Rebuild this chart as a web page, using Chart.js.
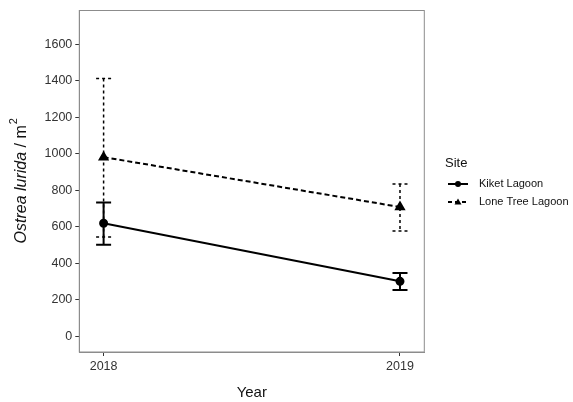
<!DOCTYPE html>
<html>
<head>
<meta charset="utf-8">
<script src="https://cdn.jsdelivr.net/npm/chart.js@4"></script>
<style>
  html, body { margin: 0; background: #fff; }
</style>
</head>
<body>
<canvas id="myChart" width="573" height="402"></canvas>
<script>
const ctx = document.getElementById('myChart');

// data
const years = [2018, 2019]
const yTicks = [0, 200, 400, 600, 800, 1000, 1200, 1400, 1600]
const sites = ['Kiket Lagoon', 'Lone Tree Lagoon']
const kiketMean = [620, 302]
const kiketLow = [502, 254]
const kiketHigh = [734, 347]
const loneMean = [982, 709]
const loneLow = [545, 578]
const loneHigh = [1413, 835]

const FONT = "'Liberation Sans', Arial, sans-serif"

const errorBars = {
  id: 'errorBars',
  beforeDatasetsDraw(chart) {
    const x = chart.scales.x
    const y = chart.scales.y
    const c = chart.ctx
    const sets = [
      { lo: kiketLow, hi: kiketHigh, dash: [], width: 2 },
      { lo: loneLow, hi: loneHigh, dash: [3, 3], width: 1.5 }
    ]
    c.save()
    c.strokeStyle = '#000'
    for (const s of sets) {
      c.lineWidth = s.width
      c.setLineDash(s.dash)
      years.forEach(function (yr, i) {
        const px = x.getPixelForValue(yr)
        const top = y.getPixelForValue(s.hi[i])
        const bot = y.getPixelForValue(s.lo[i])
        c.beginPath()
        c.moveTo(px, top); c.lineTo(px, bot)
        c.moveTo(px - 7.5, top); c.lineTo(px + 7.5, top)
        c.moveTo(px - 7.5, bot); c.lineTo(px + 7.5, bot)
        c.stroke()
      })
    }
    c.restore()
  }
}

const frame = {
  id: 'frame',
  afterDraw(chart) {
    const a = chart.chartArea
    const c = chart.ctx
    c.save()
    c.strokeStyle = '#8c8c8c'
    c.lineWidth = 1
    c.strokeRect(a.left, a.top, a.right - a.left, a.bottom - a.top)

    // y axis title with italic species name and superscript
    c.translate(22, (a.top + a.bottom) / 2)
    c.rotate(-Math.PI / 2)
    c.fillStyle = '#111'
    c.textBaseline = 'middle'
    const p1 = 'Ostrea lurida', p2 = ' / m', p3 = '2'
    c.font = 'italic 16px ' + FONT
    const w1 = c.measureText(p1).width
    c.font = '16px ' + FONT
    const w2 = c.measureText(p2).width
    c.font = '11px ' + FONT
    const w3 = c.measureText(p3).width
    let sx = -(w1 + w2 + w3) / 2
    c.textAlign = 'left'
    c.font = 'italic 16px ' + FONT
    c.fillText(p1, sx, 0)
    sx += w1
    c.font = '16px ' + FONT
    c.fillText(p2, sx, 0)
    sx += w2 + 1
    c.font = '11px ' + FONT
    c.fillText(p3, sx, -8)
    c.restore()

    // legend
    c.save()
    c.fillStyle = '#111'
    c.textBaseline = 'middle'
    c.textAlign = 'left'
    c.font = '13px ' + FONT
    c.fillText('Site', 445, 163)
    c.font = '11px ' + FONT
    chart.data.datasets.forEach(function (ds, i) {
      const ly = 184 + i * 18
      c.strokeStyle = '#000'
      c.lineWidth = 2
      c.setLineDash(i === 0 ? [] : [4, 3])
      c.beginPath()
      c.moveTo(448, ly); c.lineTo(468, ly)
      c.stroke()
      c.setLineDash([])
      c.fillStyle = '#000'
      c.beginPath()
      if (i === 0) {
        c.arc(458, ly, 3, 0, Math.PI * 2)
      } else {
        c.moveTo(458, ly - 3.5); c.lineTo(461.5, ly + 2.5); c.lineTo(454.5, ly + 2.5); c.closePath()
      }
      c.fill()
      c.fillStyle = '#111'
      c.fillText(ds.label, 479, ly)
    })
    c.restore()
  }
}

new Chart(ctx, {
  type: 'line',
  data: {
    datasets: [{
      label: sites[0],
      data: years.map((yr, i) => ({ x: yr, y: kiketMean[i] })),
      borderColor: '#000',
      borderWidth: 2,
      pointStyle: 'circle',
      pointRadius: 3.5,
      pointBackgroundColor: '#000',
      pointBorderColor: '#000'
    }, {
      label: sites[1],
      data: years.map((yr, i) => ({ x: yr, y: loneMean[i] })),
      borderColor: '#000',
      borderWidth: 2,
      borderDash: [5, 3],
      pointStyle: 'triangle',
      pointRadius: 4.5,
      pointBackgroundColor: '#000',
      pointBorderColor: '#000'
    }]
  },
  options: {
    responsive: false,
    animation: false,
    devicePixelRatio: 1,
    layout: { padding: { left: 0, right: 148.7, top: 9.3, bottom: 0 } },
    plugins: {
      legend: { display: false },
      tooltip: { enabled: false }
    },
    scales: {
      x: {
        type: 'linear',
        min: 2017.918,
        max: 2019.082,
        afterBuildTicks: s => { s.ticks = years.map(v => ({ value: v })) },
        afterFit: s => { s.height = 50 },
        ticks: {
          callback: v => String(v),
          font: { family: FONT, size: 12.5 },
          color: '#333',
          padding: 3,
          maxRotation: 0
        },
        grid: { drawOnChartArea: false, tickLength: 4, color: '#333' },
        border: { color: '#8c8c8c' },
        title: {
          display: true,
          text: 'Year',
          font: { family: FONT, size: 15 },
          color: '#111',
          padding: { top: 0, bottom: 0 }
        }
      },
      y: {
        min: -85,
        max: 1785,
        afterBuildTicks: s => { s.ticks = yTicks.map(v => ({ value: v })) },
        afterFit: s => { s.width = 79.3 },
        ticks: {
          callback: v => String(v),
          font: { family: FONT, size: 12.5 },
          color: '#333',
          padding: 3
        },
        grid: { drawOnChartArea: false, tickLength: 4, color: '#333' },
        border: { color: '#8c8c8c' }
      }
    }
  },
  plugins: [errorBars, frame]
});
</script>
</body>
</html>
